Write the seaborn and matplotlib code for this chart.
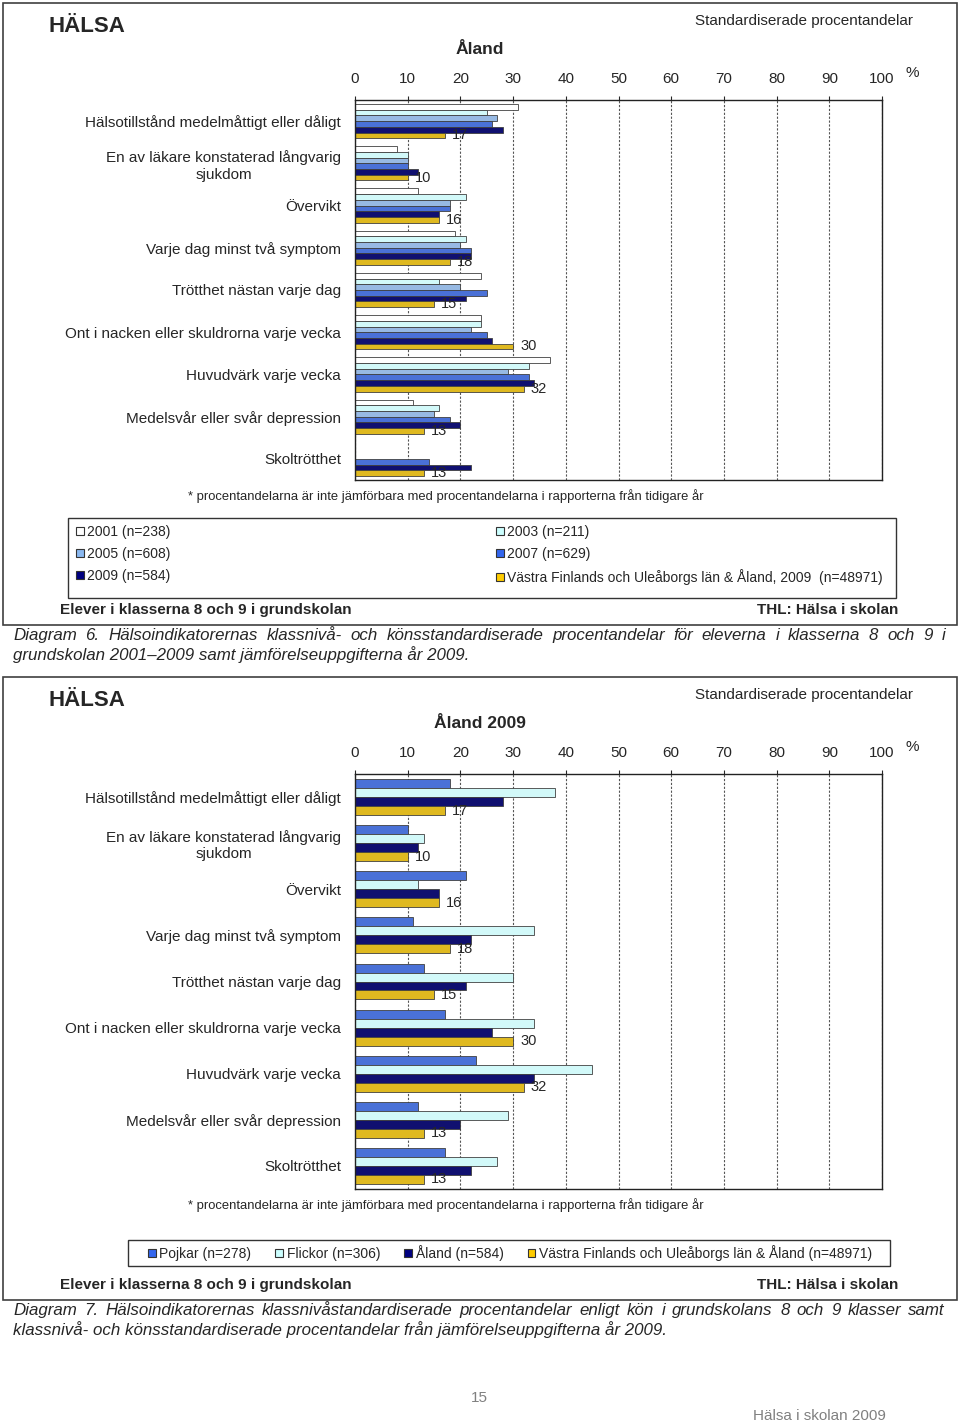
import numpy as np
import pandas as pd
import matplotlib
matplotlib.use("Agg")
import matplotlib.pyplot as plt
from matplotlib.patches import Rectangle, Patch
import seaborn as sns

sns.set_style("white")
plt.rcParams['font.family'] = ['Liberation Sans', 'DejaVu Sans']

W, H = 960, 1424

# indikatorer (samma i båda diagrammen)
indikatorer = [
    "Hälsotillstånd medelmåttigt eller dåligt",
    "En av läkare konstaterad långvarig\nsjukdom",
    "Övervikt",
    "Varje dag minst två symptom",
    "Trötthet nästan varje dag",
    "Ont i nacken eller skuldrorna varje vecka",
    "Huvudvärk varje vecka",
    "Medelsvår eller svår depression",
    "Skoltrötthet",
]

# Diagram 6 - år
serier_ar = ["2001 (n=238)", "2003 (n=211)", "2005 (n=608)", "2007 (n=629)",
             "2009 (n=584)", "Västra Finlands och Uleåborgs län & Åland, 2009  (n=48971)"]
v2001 = [31, 8, 12, 19, 24, 24, 37, 11, np.nan]
v2003 = [25, 10, 21, 21, 16, 24, 33, 16, np.nan]
v2005 = [27, 10, 18, 20, 20, 22, 29, 15, np.nan]
v2007 = [26, 10, 18, 22, 25, 25, 33, 18, 14]
v2009 = [28, 12, 16, 22, 21, 26, 34, 20, 22]
vastra = [17, 10, 16, 18, 15, 30, 32, 13, 13]
farger_ar = ["#FFFFFF", "#CCFFFF", "#8AB8F0", "#3366EE", "#000080", "#FFCC00"]

# Diagram 7 - kön
serier_kon = ["Pojkar (n=278)", "Flickor (n=306)", "Åland (n=584)",
              "Västra Finlands och Uleåborgs län & Åland (n=48971)"]
pojkar = [18, 10, 21, 11, 13, 17, 23, 12, 17]
flickor = [38, 13, 12, 34, 30, 34, 45, 29, 27]
aland = [28, 12, 16, 22, 21, 26, 34, 20, 22]
farger_kon = ["#3366EE", "#CCFFFF", "#000080", "#FFCC00"]

fig = plt.figure(figsize=(W / 100, H / 100), dpi=100)


def fx(x):
    return x / W


def fy(y):
    return 1 - y / H


def box(x0, y0, x1, y1, lw=1.0, color="#333333"):
    fig.patches.append(Rectangle((fx(x0), fy(y1)), (x1 - x0) / W, (y1 - y0) / H,
                                 transform=fig.transFigure, fill=False,
                                 edgecolor=color, lw=lw))


def long_df(series_names, cols):
    rows = []
    for name, vals in zip(series_names, cols):
        for ind, v in zip(indikatorer, vals):
            if not np.isnan(v):
                rows.append((ind, name, v))
    return pd.DataFrame(rows, columns=["indikator", "serie", "procent"])


def justify(words_text, x0, x1, y, **kw):
    # y är baslinjen
    words = words_text.split()
    texts = [fig.text(0, fy(y), w, va="baseline", **kw) for w in words]
    r = fig.canvas.get_renderer()
    widths = [t.get_window_extent(r).width for t in texts]
    gap = (x1 - x0 - sum(widths)) / (len(words) - 1)
    x = x0
    for t, w in zip(texts, widths):
        t.set_x(fx(x))
        x += w + gap


def panel(top, bottom, ax_top, ax_bottom, subtitle, df, names, colors, width):
    box(3, top, 957, bottom, lw=1.2, color="#404040")
    fig.text(fx(49), fy(top + 23), "HÄLSA", fontsize=16, fontweight="bold", va="center")
    fig.text(fx(913), fy(top + 18), "Standardiserade procentandelar", fontsize=11,
             ha="right", va="center")
    fig.text(fx(480), fy(top + 46), subtitle, fontsize=12.5, fontweight="bold",
             ha="center", va="center")
    fig.text(fx(906), fy(top + 70), "%", fontsize=11, va="center")

    ax = fig.add_axes([fx(355), fy(ax_bottom), 527 / W, (ax_bottom - ax_top) / H])
    sns.barplot(data=df, y="indikator", x="procent", hue="serie", hue_order=names,
                order=indikatorer, palette=colors, orient="h", width=width, gap=0,
                errorbar=None, edgecolor="#404040", linewidth=0.6, legend=False, ax=ax)
    ax.set_xlim(0, 100)
    ax.set_xticks(range(0, 101, 10))
    ax.xaxis.tick_top()
    ax.tick_params(axis="x", top=True, bottom=False, length=3, pad=7, labelsize=11)
    ax.tick_params(axis="y", length=0, pad=10, labelsize=11)
    for lab in ax.get_yticklabels():
        lab.set_multialignment("center")
    ax.set_xlabel("")
    ax.set_ylabel("")
    ax.xaxis.grid(True, color="#555555", linestyle=(0, (2, 1.5)), lw=0.8)
    ax.set_axisbelow(True)
    for s in ax.spines.values():
        s.set_visible(True)
        s.set_color("#222222")
        s.set_linewidth(1)
    ax.bar_label(ax.containers[-1], fmt="%.0f", padding=5, fontsize=10.5)

    fig.text(fx(188), fy(ax_bottom + 16), "* procentandelarna är inte jämförbara med "
             "procentandelarna i rapporterna från tidigare år", fontsize=9.4, va="center")
    fig.text(fx(60), fy(bottom - 15), "Elever i klasserna 8 och 9 i grundskolan",
             fontsize=11, fontweight="bold", va="center")
    fig.text(fx(898), fy(bottom - 15), "THL: Hälsa i skolan", fontsize=11,
             fontweight="bold", ha="right", va="center")
    return ax


# Diagram 6
df_ar = long_df(serier_ar, [v2001, v2003, v2005, v2007, v2009, vastra])
panel(3, 625, 100, 480, "Åland", df_ar, serier_ar, farger_ar, 0.81)
box(68, 518, 896, 598)
ordning = [0, 2, 4, 1, 3, 5]
h1 = [Patch(facecolor=farger_ar[i], edgecolor="#333333", lw=0.8) for i in ordning]
l1 = [serier_ar[i] for i in ordning]
fig.legend(h1, l1, loc="center left", ncol=2, mode="expand",
           bbox_to_anchor=(fx(76), fy(555), 807 / W, 0), borderaxespad=0,
           fontsize=10, handlelength=0.55, handleheight=0.55, handletextpad=0.25,
           labelspacing=0.58, frameon=False, borderpad=0)

justify("Diagram 6. Hälsoindikatorernas klassnivå- och könsstandardiserade procentandelar "
        "för eleverna i klasserna 8 och 9 i", 13, 945, 640, fontsize=12.2, style="italic")
fig.text(fx(13), fy(660), "grundskolan 2001–2009 samt jämförelseuppgifterna år 2009.",
         fontsize=12.2, style="italic", va="baseline")

# Diagram 7
df_kon = long_df(serier_kon, [pojkar, flickor, aland, vastra])
panel(677, 1300, 774, 1189, "Åland 2009", df_kon, serier_kon, farger_kon, 0.78)
box(128, 1240, 890, 1266)
h2 = [Patch(facecolor=c, edgecolor="#333333", lw=0.8) for c in farger_kon]
fig.legend(h2, serier_kon, loc="center", ncol=4,
           bbox_to_anchor=(fx(510), fy(1253)), fontsize=10, handlelength=0.55,
           handleheight=0.55, handletextpad=0.25, columnspacing=1.75,
           frameon=False, borderpad=0)

justify("Diagram 7. Hälsoindikatorernas klassnivåstandardiserade procentandelar enligt kön "
        "i grundskolans 8 och 9 klasser samt", 13, 945, 1315, fontsize=12.2, style="italic")
fig.text(fx(13), fy(1335), "klassnivå- och könsstandardiserade procentandelar från "
         "jämförelseuppgifterna år 2009.", fontsize=12.2, style="italic", va="baseline")

# sidfot
fig.text(fx(479), fy(1398), "15", fontsize=11, color="#808080", ha="center", va="center")
fig.text(fx(886), fy(1416), "Hälsa i skolan 2009", fontsize=11, color="#808080",
         ha="right", va="center")

fig.savefig("out.png", dpi=100)
